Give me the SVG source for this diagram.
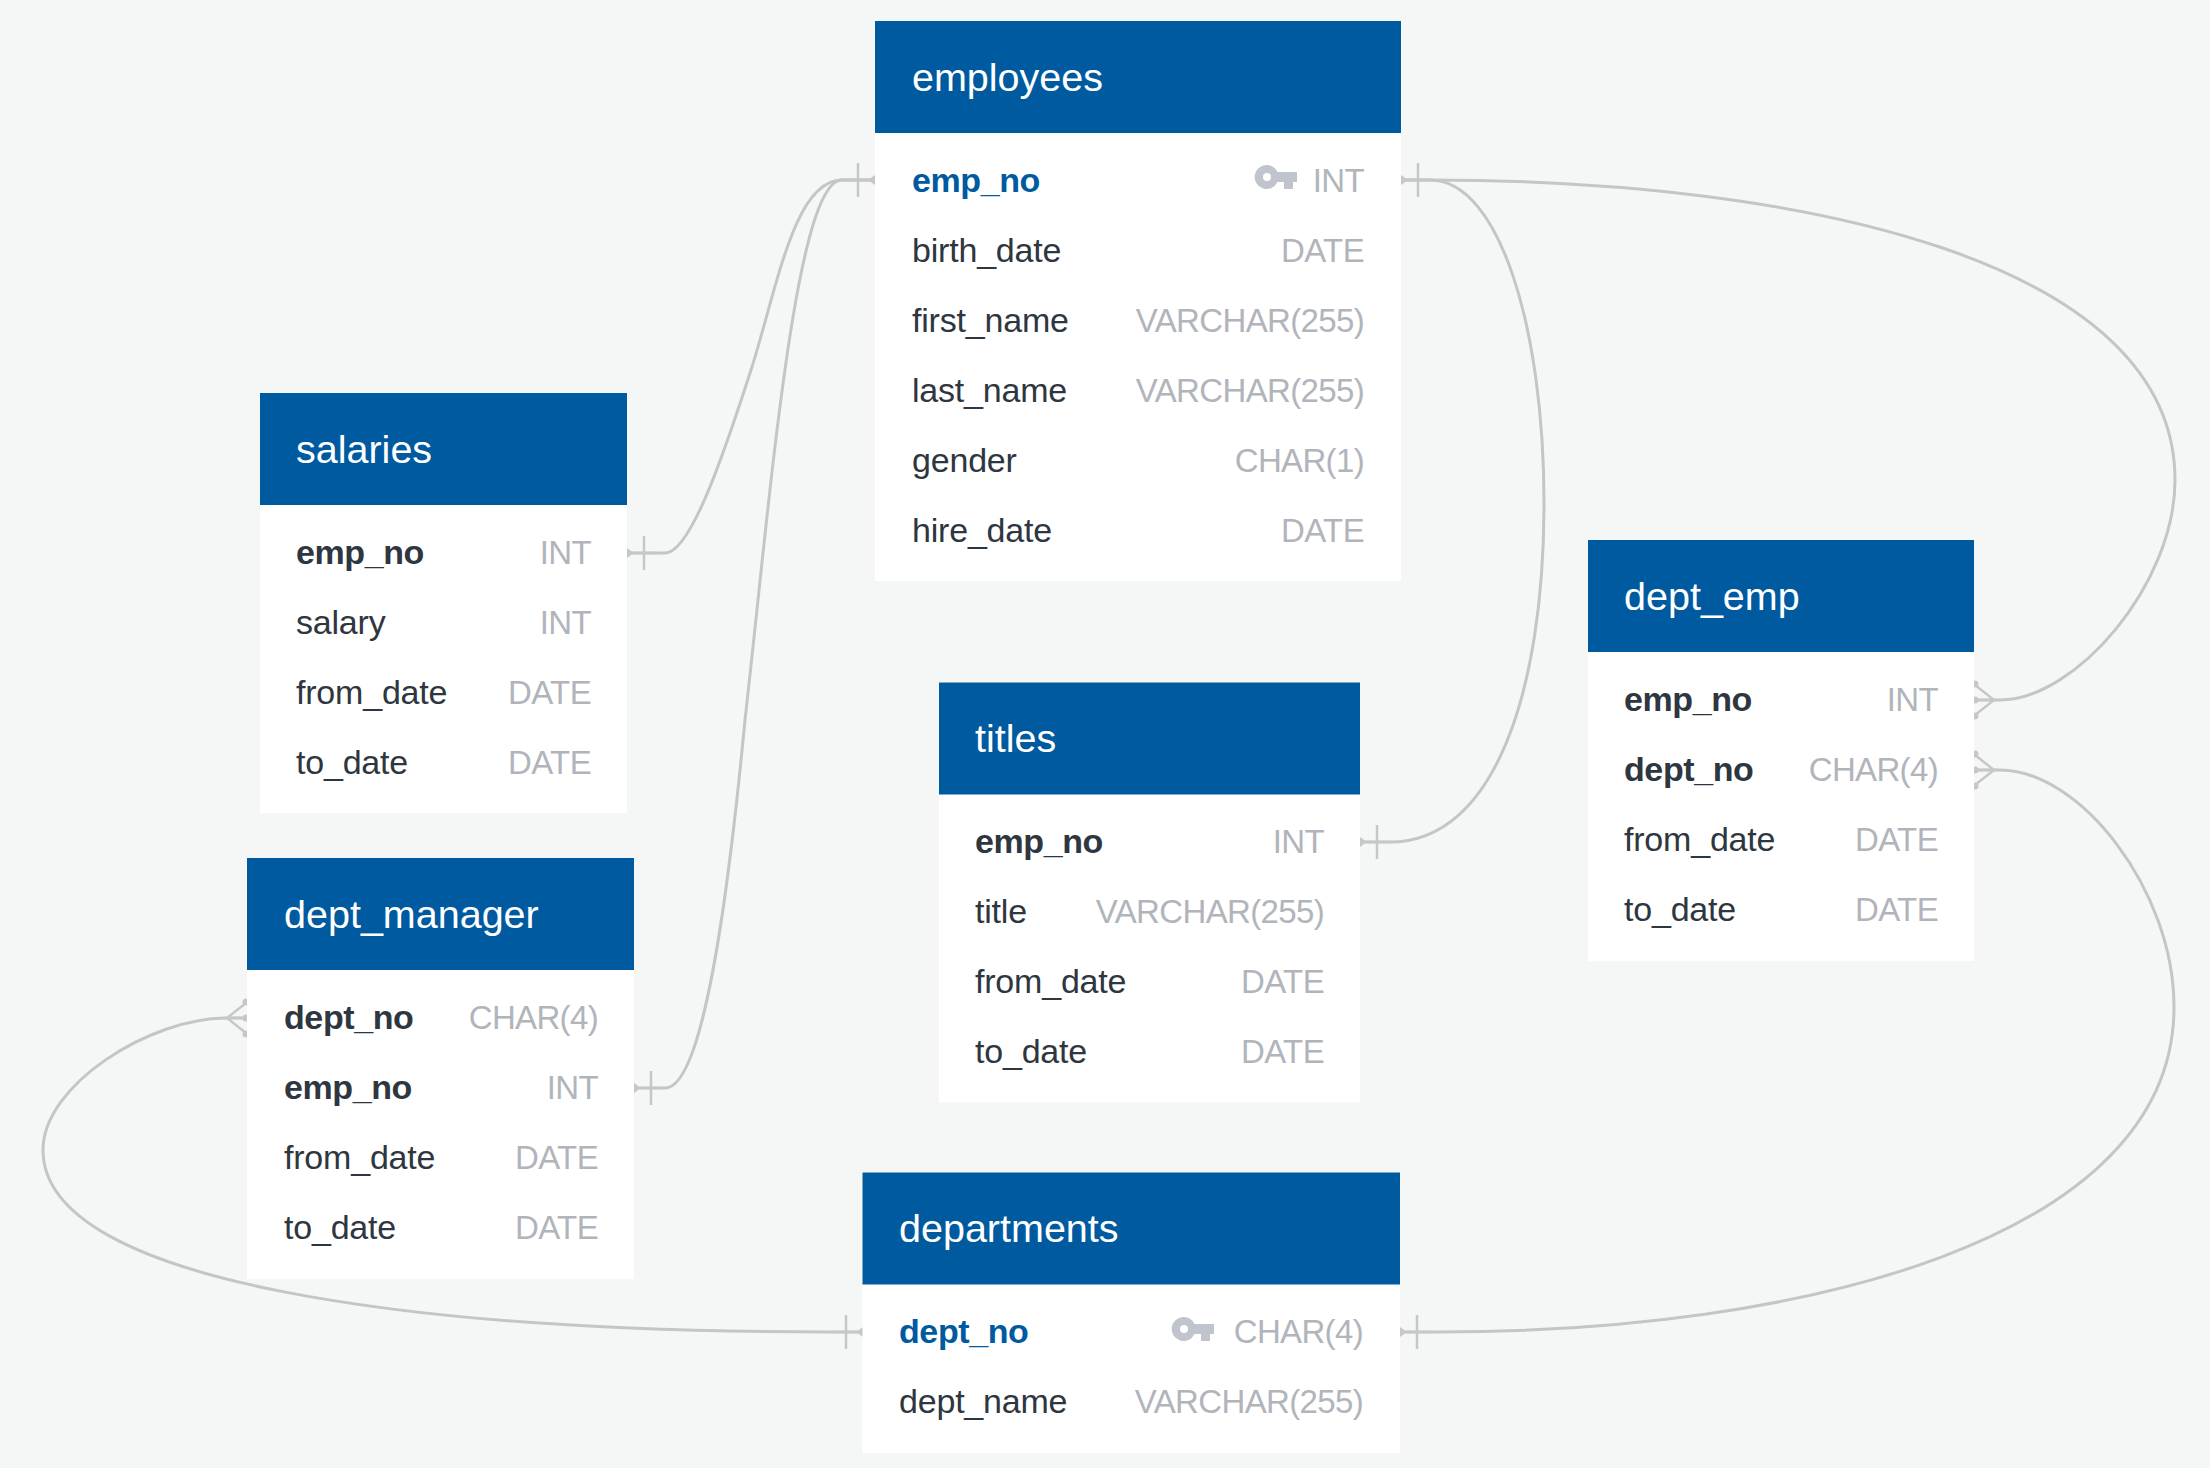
<svg xmlns="http://www.w3.org/2000/svg" width="2210" height="1468" viewBox="0 0 2210 1468">
<style>
text{font-family:"Liberation Sans",Arial,sans-serif;font-size:34px}
.h{fill:#005aa0}.b{fill:#fff}
.t{fill:#fff;font-size:39.5px}
.n{fill:#2e3640;letter-spacing:-.2px}
.k{fill:#2e3640;font-weight:700;letter-spacing:-.4px}
.p{fill:#005aa0;font-weight:700;letter-spacing:-.4px}
.y{fill:#b1b5bb;text-anchor:end;font-size:33px;letter-spacing:-.65px}
.c{fill:none;stroke:#c4c6c6;stroke-width:3}
.m{fill:none;stroke:#c6c8c8;stroke-width:2.500}
.d{fill:#c6c8c8}
.key{fill:#c0c4cc}
</style>
<defs>
<path id="key" fill-rule="evenodd" d="M12 0a12 12 0 0 1 10.500 7H42v10H38v7H29V17H22.500A12 12 0 1 1 12 0zM12 8a4 4 0 1 0 0 8a4 4 0 1 0 0-8z"/>
<g id="one"><path class="m" d="M0 0H30M17-17V17"/><path class="d" d="M0-5Q5-2 5 0Q5 2 0 5z"/></g>
<g id="many"><path class="m" d="M0 0H24M1-15L20 0L1 15"/><circle class="d" cx="1" cy="-16" r="3.500"/><circle class="d" cx="1" cy="16" r="3.500"/><circle class="d" cx="1" cy="0" r="3.500"/></g>
</defs>
<rect width="2210" height="1468" fill="#f5f7f7"/>
<g id="connectors">
<path class="c" d="M627 553H665C690 553 722 460 752 367C778 283 795 180 842 180H875"/>
<path class="c" d="M634 1088H665C700 1088 725 930 745 720C770 500 795 180 842 180H875"/>
<path class="c" d="M1401 180H1430C1500 180 1544 330 1544 503C1544 690 1495 842 1390 842H1360"/>
<path class="c" d="M1401 180H1430C1800 180 2175 260 2175 480C2175 585 2075 700 2000 700H1974"/>
<path class="c" d="M1974 770H2000C2080 770 2174 890 2174 1007C2174 1240 1800 1332 1440 1332H1400"/>
<path class="c" d="M247 1018H226C150 1018 43 1085 43 1150C43 1285 420 1332 830 1332H863"/>
<use href="#one" transform="translate(627 553)"/>
<use href="#one" transform="translate(875 180) scale(-1 1)"/>
<use href="#one" transform="translate(634 1088)"/>
<use href="#one" transform="translate(1401 180)"/>
<use href="#one" transform="translate(1360 842)"/>
<use href="#one" transform="translate(1400 1332)"/>
<use href="#one" transform="translate(863 1332) scale(-1 1)"/>
<use href="#many" transform="translate(1974 700)"/>
<use href="#many" transform="translate(1974 770)"/>
<use href="#many" transform="translate(247 1018) scale(-1 1)"/>
</g>
<g id="employees">
<rect class="b" x="875" y="21" width="526" height="560"/><rect class="h" x="875" y="21" width="526" height="112"/>
<text class="t" x="912" y="91">employees</text>
<text class="p" x="912" y="192">emp_no</text><use href="#key" class="key" transform="translate(1255 165)"/><text class="y" x="1364" y="192">INT</text>
<text class="n" x="912" y="262">birth_date</text><text class="y" x="1364" y="262">DATE</text>
<text class="n" x="912" y="332">first_name</text><text class="y" x="1364" y="332">VARCHAR(255)</text>
<text class="n" x="912" y="402">last_name</text><text class="y" x="1364" y="402">VARCHAR(255)</text>
<text class="n" x="912" y="472">gender</text><text class="y" x="1364" y="472">CHAR(1)</text>
<text class="n" x="912" y="542">hire_date</text><text class="y" x="1364" y="542">DATE</text>
</g>
<g id="salaries">
<rect class="b" x="260" y="393" width="367" height="420"/><rect class="h" x="260" y="393" width="367" height="112"/>
<text class="t" x="296" y="463">salaries</text>
<text class="k" x="296" y="564">emp_no</text><text class="y" x="591" y="564">INT</text>
<text class="n" x="296" y="634">salary</text><text class="y" x="591" y="634">INT</text>
<text class="n" x="296" y="704">from_date</text><text class="y" x="591" y="704">DATE</text>
<text class="n" x="296" y="774">to_date</text><text class="y" x="591" y="774">DATE</text>
</g>
<g id="dept_manager">
<rect class="b" x="247" y="858" width="387" height="421"/><rect class="h" x="247" y="858" width="387" height="112"/>
<text class="t" x="284" y="928">dept_manager</text>
<text class="k" x="284" y="1029">dept_no</text><text class="y" x="598" y="1029">CHAR(4)</text>
<text class="k" x="284" y="1099">emp_no</text><text class="y" x="598" y="1099">INT</text>
<text class="n" x="284" y="1169">from_date</text><text class="y" x="598" y="1169">DATE</text>
<text class="n" x="284" y="1239">to_date</text><text class="y" x="598" y="1239">DATE</text>
</g>
<g id="titles">
<rect class="b" x="939" y="682.500" width="421" height="420"/><rect class="h" x="939" y="682.500" width="421" height="112"/>
<text class="t" x="975" y="752">titles</text>
<text class="k" x="975" y="853">emp_no</text><text class="y" x="1324" y="853">INT</text>
<text class="n" x="975" y="923">title</text><text class="y" x="1324" y="923">VARCHAR(255)</text>
<text class="n" x="975" y="993">from_date</text><text class="y" x="1324" y="993">DATE</text>
<text class="n" x="975" y="1063">to_date</text><text class="y" x="1324" y="1063">DATE</text>
</g>
<g id="dept_emp">
<rect class="b" x="1588" y="540" width="386" height="421"/><rect class="h" x="1588" y="540" width="386" height="112"/>
<text class="t" x="1624" y="610">dept_emp</text>
<text class="k" x="1624" y="711">emp_no</text><text class="y" x="1938" y="711">INT</text>
<text class="k" x="1624" y="781">dept_no</text><text class="y" x="1938" y="781">CHAR(4)</text>
<text class="n" x="1624" y="851">from_date</text><text class="y" x="1938" y="851">DATE</text>
<text class="n" x="1624" y="921">to_date</text><text class="y" x="1938" y="921">DATE</text>
</g>
<g id="departments">
<rect class="b" x="862.500" y="1172.500" width="537.500" height="280.500"/><rect class="h" x="862.500" y="1172.500" width="537.500" height="112"/>
<text class="t" x="899" y="1242">departments</text>
<text class="p" x="899" y="1343">dept_no</text><use href="#key" class="key" transform="translate(1172 1317)"/><text class="y" x="1363" y="1343">CHAR(4)</text>
<text class="n" x="899" y="1413">dept_name</text><text class="y" x="1363" y="1413">VARCHAR(255)</text>
</g>
</svg>
